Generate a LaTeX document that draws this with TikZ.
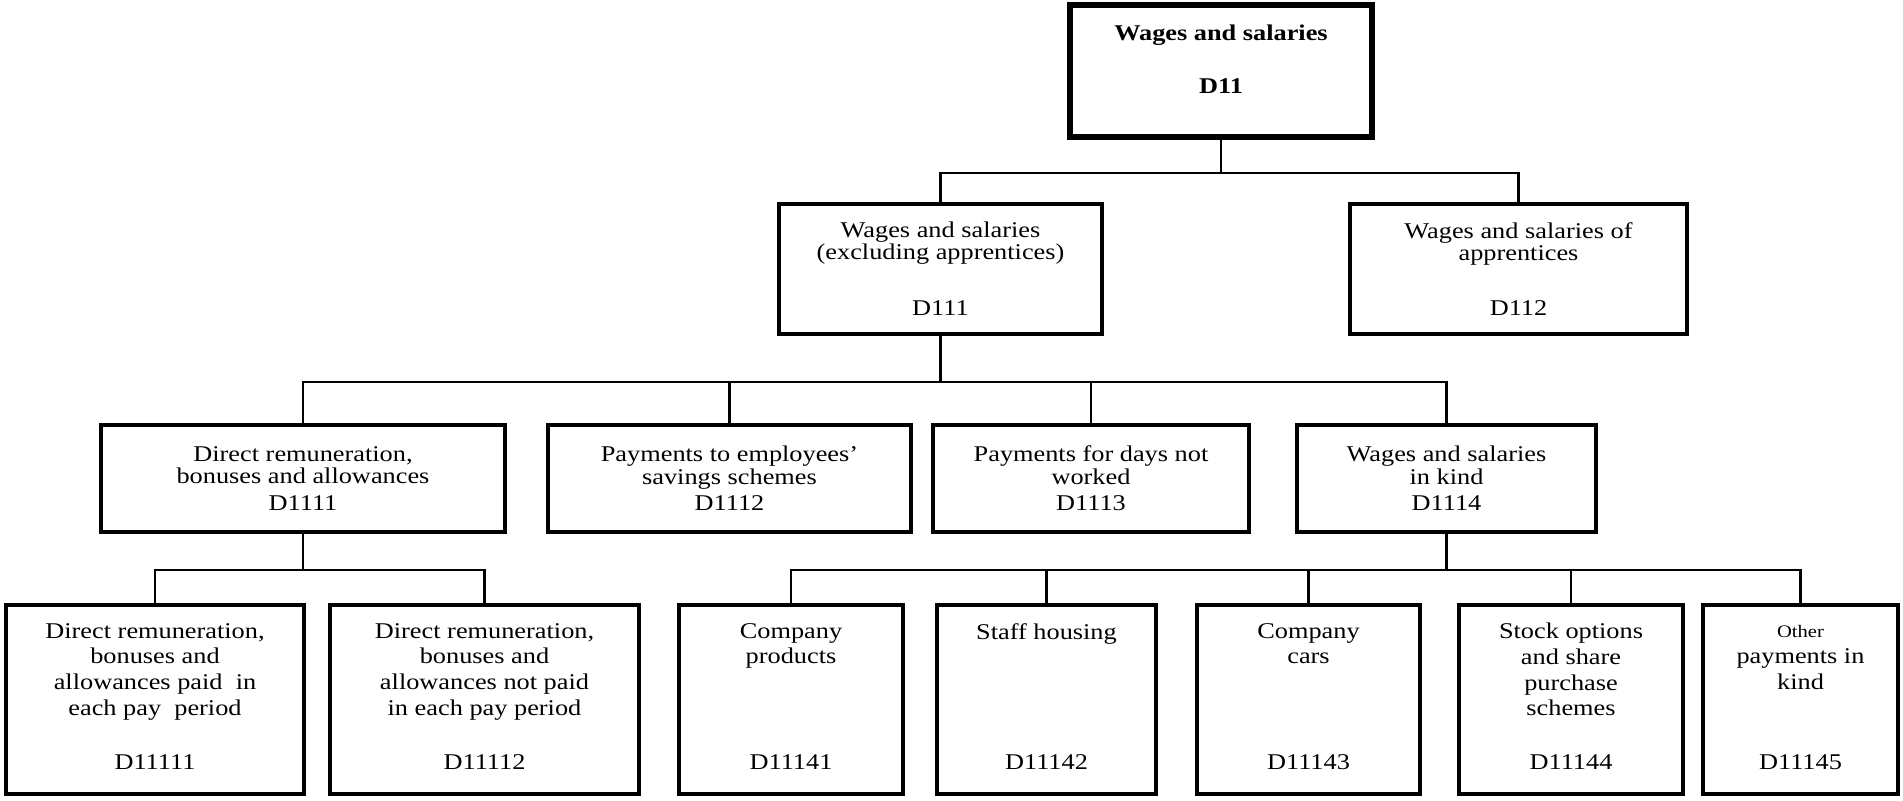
\documentclass[tikz,border=0pt]{standalone}
\usepackage{fontspec}
\setmainfont[FakeStretch=1.17]{Liberation Serif}

\newcommand{\tx}{\fontsize{12.8}{12.6}\selectfont}
\newcommand{\txl}{\fontsize{12.8}{14.6}\selectfont}

\tikzset{
	box/.style={draw, line width=1.9pt, inner sep=0pt},
	head/.style={anchor=north, inner sep=0pt, align=center},
	code/.style={anchor=base, inner sep=0pt},
	wire/.style={line width=1.2pt},
}

\begin{document}
\begin{tikzpicture}[x=0.2mm, y=-0.2mm, font=\tx]
\useasboundingbox (0,0) rectangle (1903,800);

\node[box, line width=3pt, minimum width=60.4mm, minimum height=26.4mm] (d11) at (1221,71) {};
\node[head, font=\tx\bfseries] (h11) at ([yshift=-4.5mm]d11.north) {Wages and salaries};
\node[code, font=\tx\bfseries] (c11) at ([yshift=9.3mm]d11.south) {D11};

\foreach \n/\x/\w/\t in {
111/940.5/64.6/{Wages and salaries\\(excluding apprentices)}%
,112/1518.5/67.4/{Wages and salaries of\\apprentices}%
}{
	\node[box, minimum width=\w mm, minimum height=26mm] (d\n) at (\x,269) {};
	\node[head] (h\n) at ([yshift=-3.9mm]d\n.north) {\t};
	\node[code] (c\n) at ([yshift=4mm]d\n.south) {D\n};
}

\foreach \n/\x/\w/\t in {
1111/303/80.8/{Direct remuneration,\\bonuses and allowances}%
,1112/729.5/72.6/{Payments to employees’\\savings schemes}%
,1113/1091/63.2/{Payments for days not\\worked}%
,1114/1446.5/59.8/{Wages and salaries\\in kind}%
}{
	\node[box, align=center, minimum width=\w mm, minimum height=21.4mm] (d\n) at (\x,478.5) {\t\\[2.5pt]D\n};
}

\foreach \n/\x/\w/\t in {
11111/155/59.6/{Direct remuneration,\\bonuses and\\allowances paid~ in\\each pay~ period}%
,11112/484.5/61.8/{Direct remuneration,\\bonuses and\\allowances not paid\\in each pay period}%
,11141/791/44.8/{Company\\products}%
,11142/1046.5/43.8/{Staff housing}%
,11143/1308.5/44.6/{Company\\cars}%
,11144/1571/44.8/{Stock options\\and share\\purchase\\schemes}%
,11145/1800.5/39/{\vphantom{D}{\fontsize{10}{14.6}\selectfont Other}\\payments in\\kind}%
}{
	\node[box, minimum width=\w mm, minimum height=37.8mm] (d\n) at (\x,699.5) {};
	\node[head, font=\txl] (h\n) at ([yshift=-3.9mm]d\n.north) {\t};
	\node[code] (c\n) at ([yshift=5.2mm]d\n.south) {D\n};
}

\foreach \v in {d111,d112}{
	\draw[wire] (d11.south) -- ++(0,33) -| (\v.north);
}
\foreach \v in {d1111,d1112,d1113,d1114}{
	\draw[wire] (d111.south) -- ++(0,46) -| (\v.north);
}
\foreach \v in {d11111,d11112}{
	\draw[wire] (d1111.south) -- ++(0,36) -| (\v.north);
}
\foreach \v in {d11141,d11142,d11143,d11144,d11145}{
	\draw[wire] (d1114.south) -- ++(0,36) -| (\v.north);
}

\end{tikzpicture}
\end{document}
